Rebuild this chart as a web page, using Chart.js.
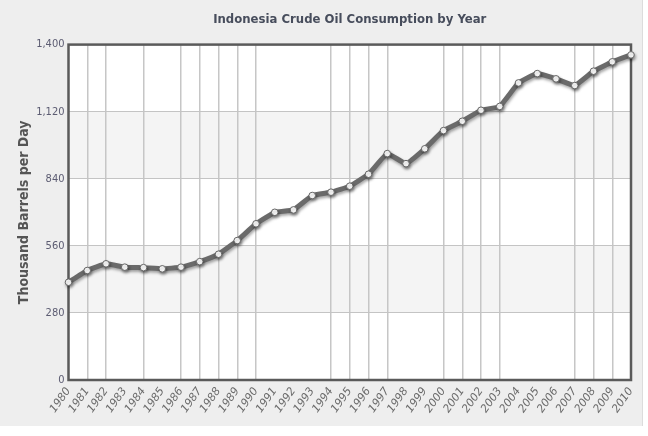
<!DOCTYPE html>
<html>
<head>
<meta charset="utf-8">
<script src="https://cdn.jsdelivr.net/npm/chart.js@4/dist/chart.umd.min.js"></script>
<style>
  html, body { margin: 0; padding: 0; background: #fff; }
  #wrap { width: 648px; height: 436px; }
</style>
</head>
<body>
<div id="wrap"><canvas id="grafico" width="648" height="436"></canvas></div>
<script>
// Datos
const años = ["1980","1981","1982","1983","1984","1985","1986","1987","1988","1989",
  "1990","1991","1992","1993","1994","1995","1996","1997","1998","1999",
  "2000","2001","2002","2003","2004","2005","2006","2007","2008","2009","2010"];
const consumo = [408, 457, 485, 471, 469, 464, 471, 494, 525, 582,
  652, 700, 710, 770, 784, 809, 859, 945, 903, 965,
  1041, 1080, 1126, 1142, 1240, 1279, 1257, 1229, 1289, 1328, 1357];
const ticksY = [0, 280, 560, 840, 1120, 1400];
// años con línea vertical en la rejilla
const lineasX = [1, 2, 4, 6, 7, 8, 9, 10, 14, 15, 16, 17, 20, 21, 22, 23, 27, 28, 29];

const fuente = "'DejaVu Sans Condensed', 'Liberation Sans Narrow', 'DejaVu Sans', sans-serif";

// Fondo, bandas y borde del área
const fondo = {
  id: "fondo",
  beforeDraw(chart) {
    const { ctx, chartArea: a, scales } = chart;
    ctx.save();
    ctx.fillStyle = "#ffffff";
    ctx.fillRect(0, 0, chart.width, chart.height);
    ctx.fillStyle = "#eeeeee";
    ctx.fillRect(0, 0, 642, 426);
    ctx.fillStyle = "#dcdcdc";
    ctx.fillRect(642, 0, 1, 426);
    ctx.fillStyle = "#ffffff";
    ctx.fillRect(a.left, a.top, a.width, a.height);
    for (let i = 0; i < ticksY.length - 1; i++) {
      if (i % 2 === 1) {
        const y1 = scales.y.getPixelForValue(ticksY[i]);
        const y2 = scales.y.getPixelForValue(ticksY[i + 1]);
        ctx.fillStyle = "#f4f4f4";
        ctx.fillRect(a.left, y2, a.width, y1 - y2);
      }
    }
    ctx.restore();
  },
  beforeDatasetsDraw(chart) {
    const { ctx, chartArea: a } = chart;
    ctx.save();
    ctx.strokeStyle = "#5a5a5a";
    ctx.lineWidth = 2.5;
    ctx.strokeRect(a.left, a.top, a.width, a.height);
    ctx.restore();
  },
  beforeDatasetDraw(chart) {
    const ctx = chart.ctx;
    ctx.save();
    ctx.shadowColor = "rgba(0,0,0,0.35)";
    ctx.shadowBlur = 3;
    ctx.shadowOffsetX = 1;
    ctx.shadowOffsetY = 2;
  },
  afterDatasetDraw(chart) {
    chart.ctx.restore();
  }
};

new Chart(document.getElementById("grafico"), {
  type: "line",
  data: {
    labels: años,
    datasets: [{
      label: "Consumo",
      data: consumo,
      borderColor: "#6a6a6a",
      borderWidth: 5,
      tension: 0.1,
      pointRadius: 3.3,
      pointBackgroundColor: "#ffffff",
      pointBorderColor: "#666666",
      pointBorderWidth: 1,
      clip: false
    }]
  },
  options: {
    responsive: false,
    animation: false,
    layout: { padding: { left: 0, right: 17, top: 0, bottom: 0 } },
    plugins: {
      legend: { display: false },
      tooltip: { enabled: false },
      title: {
        display: true,
        text: "Indonesia Crude Oil Consumption by Year",
        fullSize: false,
        color: "#474d5c",
        font: { family: fuente, size: 13, weight: "bold" },
        padding: { top: 12, bottom: 17 }
      }
    },
    scales: {
      x: {
        offset: false,
        afterFit: s => { s.height = 56; },
        border: { display: false },
        grid: {
          drawTicks: false,
          lineWidth: 1.5,
          color: c => lineasX.includes(c.index) ? "#c6c6c6" : "rgba(0,0,0,0)"
        },
        ticks: {
          autoSkip: false,
          minRotation: 55,
          maxRotation: 55,
          padding: 5,
          color: "#6a6a6a",
          font: { family: "'DejaVu Sans', sans-serif", size: 11, style: "italic" }
        }
      },
      y: {
        min: 0,
        max: 1400,
        afterFit: s => { s.width = 68.5; },
        afterBuildTicks: s => { s.ticks = ticksY.map(v => ({ value: v })); },
        border: { display: false },
        grid: { drawTicks: false, color: "#c4c4c4", lineWidth: 1 },
        ticks: {
          padding: 4,
          color: "#5c5c72",
          font: { family: fuente, size: 11 },
          callback: v => v.toLocaleString("en-US")
        },
        title: {
          display: true,
          text: "Thousand Barrels per Day",
          color: "#555555",
          font: { family: fuente, size: 14, weight: "bold" },
          padding: { top: 16, bottom: 0 }
        }
      }
    }
  },
  plugins: [fondo]
});
</script>
</body>
</html>
